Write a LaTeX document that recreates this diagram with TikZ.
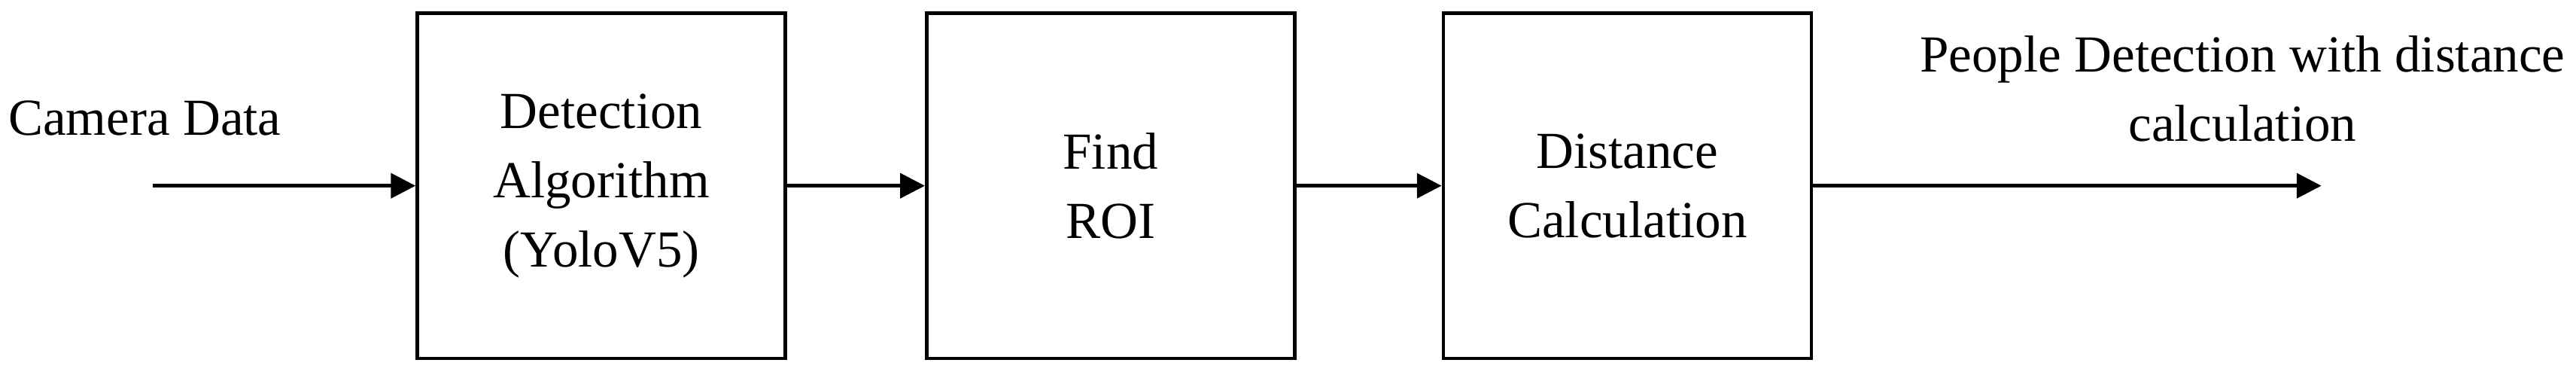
\documentclass[tikz,border=0pt]{standalone}
\usepackage{fontspec}
\setmainfont{Liberation Serif}
\usetikzlibrary{arrows.meta}
\begin{document}
\begin{tikzpicture}[x=0.05cm,y=-0.05cm,
  blk/.style={draw,line width=3pt,minimum width=11.2cm,minimum height=10.5cm,align=center,inner sep=0pt,font=\fontsize{45}{60}\selectfont},
  lbl/.style={align=center,font=\fontsize{45}{60}\selectfont,inner sep=0pt},
  flow/.style={line width=3pt,-{Triangle[length=0.75cm,width=0.75cm]}}]
\useasboundingbox (0,0) rectangle (1568,228);
\node[blk] (b1) at (366,113) {Detection\\Algorithm\\(YoloV5)};
\node[blk] (b2) at (676,113) {Find\\ROI};
\node[blk] (b3) at (990.5,113) {Distance\\Calculation};
\node[lbl,anchor=west] (in) at (5,72) {Camera Data};
\coordinate (s) at (93,113);
\coordinate (e) at (1413,113);
\node[lbl] (out) at (1365,54) {People Detection with distance\\calculation};
\draw[flow] (s) -- (s -| b1.west);
\draw[flow] (b1.east |- s) -- (b2.west |- s);
\draw[flow] (b2.east |- s) -- (b3.west |- s);
\draw[flow] (b3.east |- s) -- (e);
\end{tikzpicture}
\end{document}
